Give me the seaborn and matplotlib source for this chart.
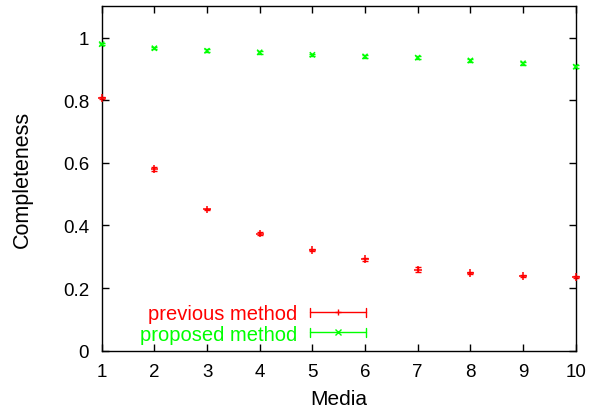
import matplotlib
matplotlib.use("Agg")
import matplotlib.pyplot as plt
import seaborn as sns
import pandas as pd
from matplotlib.lines import Line2D
from matplotlib.legend_handler import HandlerBase

media = [1, 2, 3, 4, 5, 6, 7, 8, 9, 10]
previous = [0.807, 0.580, 0.451, 0.374, 0.321, 0.292, 0.259, 0.248, 0.238, 0.235]
previous_err = [0.004, 0.006, 0.003, 0.004, 0.004, 0.004, 0.008, 0.004, 0.004, 0.003]
proposed = [0.979, 0.966, 0.958, 0.953, 0.945, 0.940, 0.936, 0.927, 0.918, 0.907]
proposed_err = [0.004, 0.004, 0.004, 0.004, 0.004, 0.004, 0.004, 0.004, 0.004, 0.004]
series_names = ["previous method", "proposed method"]
colors = ["#ff0000", "#00ff00"]
markers = ["+", "x"]
yticks = [0, 0.2, 0.4, 0.6, 0.8, 1]
ytick_labels = ["0", "0.2", "0.4", "0.6", "0.8", "1"]

sns.set_theme(style="ticks")
plt.rcParams["font.family"] = ["Liberation Sans", "DejaVu Sans"]
plt.rcParams["axes.labelcolor"] = "black"
plt.rcParams["text.color"] = "black"

df = pd.DataFrame({
    "Media": media * 2,
    "Completeness": previous + proposed,
    "err": previous_err + proposed_err,
    "method": [series_names[0]] * len(media) + [series_names[1]] * len(media),
})

fig = plt.figure(figsize=(5.92, 4.14), dpi=100)
ax = fig.add_axes([0.1718, 0.1505, 0.8007, 0.8319])

for name, col, mk in zip(series_names, colors, markers):
    sub = df[df["method"] == name]
    ax.errorbar(sub["Media"], sub["Completeness"], yerr=sub["err"], fmt="none",
                ecolor=col, elinewidth=1.0, capsize=2.0, capthick=1.0, zorder=2,
                clip_on=False)
sns.scatterplot(data=df, x="Media", y="Completeness", hue="method", style="method",
                palette=dict(zip(series_names, colors)),
                markers=dict(zip(series_names, markers)),
                size="method", sizes={series_names[0]: 30, series_names[1]: 14},
                linewidth=1.1, legend=False, ax=ax, zorder=3, clip_on=False)

ax.set_xlim(1, 10)
ax.set_ylim(0, 1.1)
ax.set_xticks(media)
ax.set_yticks(yticks)
ax.set_yticklabels(ytick_labels)
ax.tick_params(direction="in", length=5, width=1, top=True, right=True,
               labelsize=13.5, colors="black", labelcolor="black")
ax.tick_params(axis="x", pad=9)
ax.tick_params(axis="y", pad=9)
for s in ax.spines.values():
    s.set_linewidth(1.0)
    s.set_color("black")
ax.set_xlabel("Media", fontsize=15, labelpad=6, color="black")
ax.set_ylabel("Completeness", fontsize=15.5, labelpad=22, color="black")


class ErrHandler(HandlerBase):
    def create_artists(self, legend, orig_handle, xdescent, ydescent, width, height,
                       fontsize, trans):
        col = orig_handle.get_color()
        mk = orig_handle.get_marker()
        y = height / 2 - ydescent
        x0 = -xdescent
        x1 = -xdescent + width
        h = 3.0
        arts = [
            Line2D([x0, x1], [y, y], color=col, lw=1.0),
            Line2D([x0, x0], [y - h, y + h], color=col, lw=1.0),
            Line2D([x1, x1], [y - h, y + h], color=col, lw=1.0),
            Line2D([(x0 + x1) / 2], [y], color=col, marker=mk, markersize=4.5,
                   markeredgewidth=1.0, linestyle="none"),
        ]
        for a in arts:
            a.set_transform(trans)
        return arts


handles = [Line2D([], [], color=c, marker=m) for c, m in zip(colors, markers)]
leg = ax.legend(handles, series_names, handler_map={Line2D: ErrHandler()},
                loc="center right", bbox_to_anchor=(0.5576, 0.0775),
                frameon=False, markerfirst=False, fontsize=14.5,
                handlelength=2.8, handletextpad=0.62, labelspacing=0.05,
                borderpad=0, borderaxespad=0, labelcolor=colors)

fig.savefig("out.png", dpi=100)
